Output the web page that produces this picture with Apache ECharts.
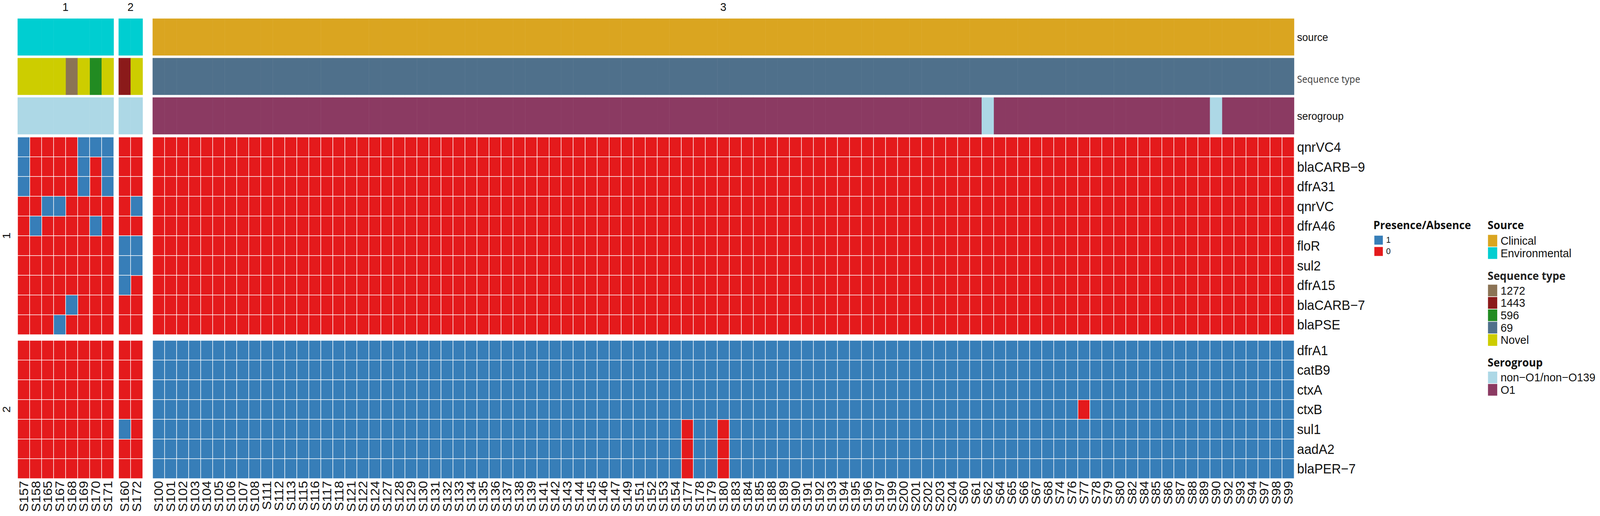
<!DOCTYPE html>
<html>
<head>
<meta charset="utf-8">
<style>html,body{margin:0;padding:0;background:#fff;overflow:hidden}#c{width:4328px;height:1322px;transform-origin:0 0}</style>
<script src="https://cdn.jsdelivr.net/npm/echarts@6/dist/echarts.min.js"></script>
</head>
<body>
<div id="c"></div>
<script>
// ---- categories ----
const samplesA = ['S157','S158','S165','S167','S168','S169','S170','S171'];
const samplesB = ['S160','S172'];
const samplesC = ['S100','S101','S102','S103','S104','S105','S106','S107','S108','S111','S112','S113','S115','S116','S117','S118','S121','S122','S124','S127','S128','S129','S130','S131','S132','S133','S134','S135','S136','S137','S138','S139','S141','S142','S143','S144','S145','S146','S147','S149','S151','S152','S153','S154','S177','S178','S179','S180','S183','S184','S185','S188','S189','S190','S191','S192','S193','S194','S195','S196','S197','S199','S200','S201','S202','S203','S204','S60','S61','S62','S64','S65','S66','S67','S68','S74','S76','S77','S78','S79','S80','S82','S84','S85','S86','S87','S88','S89','S90','S92','S93','S94','S97','S98','S99'];
const genesTop = ['qnrVC4','blaCARB\u22129','dfrA31','qnrVC','dfrA46','floR','sul2','dfrA15','blaCARB\u22127','blaPSE'];
const genesBottom = ['dfrA1','catB9','ctxA','ctxB','sul1','aadA2','blaPER\u22127'];

// ---- annotation values (one code per sample) ----
const sourceNames = {C:'Clinical', E:'Environmental'};
const sequenceNames = {a:'1272', b:'1443', c:'596', d:'69', n:'Novel'};
const seroNames = {x:'non\u2212O1/non\u2212O139', y:'O1'};
const sourceA = 'EEEEEEEE';
const sourceB = 'EE';
const sourceC = 'CCCCCCCCCC CCCCCCCCCC CCCCCCCCCC CCCCCCCCCC CCCCCCCCCC CCCCCCCCCC CCCCCCCCCC CCCCCCCCCC CCCCCCCCCC CCCCC';
const sequenceA = 'nnnnancn';
const sequenceB = 'bn';
const sequenceC = 'dddddddddd dddddddddd dddddddddd dddddddddd dddddddddd dddddddddd dddddddddd dddddddddd dddddddddd ddddd';
const seroA = 'xxxxxxxx';
const seroB = 'xx';
const seroC = 'yyyyyyyyyy yyyyyyyyyy yyyyyyyyyy yyyyyyyyyy yyyyyyyyyy yyyyyyyyyy yyyyyyyyyx yyyyyyyyyy yyyyyyyyxy yyyyy';

// ---- presence / absence, one string per gene ----
const topA = ['10000111','10000101','10000101','00110000','01000010','00000000','00000000','00000000','00001000','00010000'];
const topB = ['00','00','00','01','00','11','11','10','00','00'];
const topC = [
 '0000000000 0000000000 0000000000 0000000000 0000000000 0000000000 0000000000 0000000000 0000000000 00000',
 '0000000000 0000000000 0000000000 0000000000 0000000000 0000000000 0000000000 0000000000 0000000000 00000',
 '0000000000 0000000000 0000000000 0000000000 0000000000 0000000000 0000000000 0000000000 0000000000 00000',
 '0000000000 0000000000 0000000000 0000000000 0000000000 0000000000 0000000000 0000000000 0000000000 00000',
 '0000000000 0000000000 0000000000 0000000000 0000000000 0000000000 0000000000 0000000000 0000000000 00000',
 '0000000000 0000000000 0000000000 0000000000 0000000000 0000000000 0000000000 0000000000 0000000000 00000',
 '0000000000 0000000000 0000000000 0000000000 0000000000 0000000000 0000000000 0000000000 0000000000 00000',
 '0000000000 0000000000 0000000000 0000000000 0000000000 0000000000 0000000000 0000000000 0000000000 00000',
 '0000000000 0000000000 0000000000 0000000000 0000000000 0000000000 0000000000 0000000000 0000000000 00000',
 '0000000000 0000000000 0000000000 0000000000 0000000000 0000000000 0000000000 0000000000 0000000000 00000'
];
const bottomA = ['00000000','00000000','00000000','00000000','00000000','00000000','00000000'];
const bottomB = ['00','00','00','00','10','00','00'];
const bottomC = [
 '1111111111 1111111111 1111111111 1111111111 1111111111 1111111111 1111111111 1111111111 1111111111 11111',
 '1111111111 1111111111 1111111111 1111111111 1111111111 1111111111 1111111111 1111111111 1111111111 11111',
 '1111111111 1111111111 1111111111 1111111111 1111111111 1111111111 1111111111 1111111111 1111111111 11111',
 '1111111111 1111111111 1111111111 1111111111 1111111111 1111111111 1111111111 1111111011 1111111111 11111',
 '1111111111 1111111111 1111111111 1111111111 1111011011 1111111111 1111111111 1111111111 1111111111 11111',
 '1111111111 1111111111 1111111111 1111111111 1111011011 1111111111 1111111111 1111111111 1111111111 11111',
 '1111111111 1111111111 1111111111 1111111111 1111011011 1111111111 1111111111 1111111111 1111111111 11111'
];

// ---- styling ----
const FONT = '"Liberation Sans", Arial, sans-serif';
const HEAD = '"Open Sans", sans-serif';
const colors = {
  '1':'#377EB8','0':'#E41A1C','Clinical':'#DAA520','Environmental':'#00CED1',
  '1272':'#8B7355','1443':'#8B1A1A','596':'#228B22','69':'#4F708B','Novel':'#CDCD00',
  'non\u2212O1/non\u2212O139':'#ADD8E6','O1':'#8B3A62'
};
const columns = [
  {left:47.8, right:307.6, samples:samplesA},
  {left:321, right:386, samples:samplesB},
  {left:413, right:3500.6, samples:samplesC}
];
const bands = [
  {top:47.7, bottom:142, kind:'source', rows:['source'], cols:[sourceA,sourceB,sourceC], names:sourceNames, fs:28, color:'#111', font:FONT},
  {top:148.7, bottom:243, kind:'seq', rows:['Sequence type'], cols:[sequenceA,sequenceB,sequenceC], names:sequenceNames, fs:25, color:'#3a3a3a', font:HEAD, lowered:true},
  {top:249.7, bottom:344, kind:'sero', rows:['serogroup'], cols:[seroA,seroB,seroC], names:seroNames, fs:28, color:'#111', font:FONT},
  {top:351.3, bottom:857.3, kind:'heat', rows:genesTop, cols:[topA,topB,topC], fs:35, color:'#111', font:FONT},
  {top:872.3, bottom:1226, kind:'heat', rows:genesBottom, cols:[bottomA,bottomB,bottomC], fs:35, color:'#111', font:FONT, last:true}
];

const grid = [], xAxis = [], yAxis = [], series = [];
bands.forEach(function (band) {
  columns.forEach(function (col, ci) {
    const idx = grid.length;
    grid.push({left:col.left, top:band.top, width:col.right-col.left, height:band.bottom-band.top, containLabel:false});
    xAxis.push({
      type:'category', gridIndex:idx, data:col.samples, show:!!band.last, position:'bottom',
      axisLine:{show:false}, axisTick:{show:false}, splitLine:{show:false},
      axisLabel:{interval:0, rotate:90, margin:6, fontSize:34, color:'#111', fontFamily:FONT}
    });
    const yLabel = {interval:0, margin:8, fontSize:band.fs, color:band.color, fontFamily:band.font};
    if (band.lowered) { yLabel.verticalAlign = 'top'; yLabel.lineHeight = 12; }
    yAxis.push({
      type:'category', gridIndex:idx, data:band.rows, inverse:true, show:ci===2, position:'right',
      axisLine:{show:false}, axisTick:{show:false}, splitLine:{show:false},
      axisLabel:yLabel
    });
    const buckets = {};
    if (band.kind === 'heat') {
      band.cols[ci].forEach(function (row, r) {
        row.replace(/ /g,'').split('').forEach(function (v, c) {
          (buckets[v] = buckets[v] || []).push([c, r, 1]);
        });
      });
    } else {
      band.cols[ci].replace(/ /g,'').split('').forEach(function (code, c) {
        const n = band.names[code];
        (buckets[n] = buckets[n] || []).push([c, 0, 1]);
      });
    }
    Object.keys(buckets).forEach(function (name) {
      series.push({
        type:'heatmap', name:name, xAxisIndex:idx, yAxisIndex:idx, data:buckets[name], silent:true,
        label:{show:false}, emphasis:{disabled:true},
        itemStyle: band.kind === 'heat'
          ? {color:colors[name], borderColor:'#fff', borderWidth:1.5}
          : {color:colors[name], borderWidth:0}
      });
    });
  });
});

function legend(names, left, top, h, gap, fs) {
  return {
    show:true, orient:'vertical', left:left, top:top, padding:0, data:names.map(function(n){return {name:n, icon:'rect'};}),
    itemWidth:25, itemHeight:h, itemGap:gap, selectedMode:false,
    textStyle:{fontSize:fs, color:'#111', fontFamily:FONT, padding:[0,0,0,fs>24?4:3]},
    inactiveColor:'#ccc'
  };
}
function text(t, x, y, o) {
  return {type:'text', x:x, y:y, silent:true, rotation:(o&&o.rot)||0,
    style:{text:t, fill:(o&&o.fill)||'#111', font:(o&&o.font)||('30px '+FONT), textAlign:(o&&o.align)||'center', textVerticalAlign:'middle'}};
}
const boldFont = 'bold 29px '+HEAD;
const graphic = [
  text('1', 177, 17.5), text('2', 353, 17.5), text('3', 1956.5, 17.5),
  text('1', 17.5, 604, {rot:Math.PI/2}), text('2', 17.5, 1049, {rot:Math.PI/2}),
  text('Presence/Absence', 3715, 575.5, {font:boldFont, align:'left'}),
  text('Source', 4024, 575.5, {font:boldFont, align:'left'}),
  text('Sequence type', 4024, 705.5, {font:boldFont, align:'left', fill:'#222'}),
  text('Serogroup', 4024, 928, {font:boldFont, align:'left'})
];

const option = {
  animation:false, backgroundColor:'#fff', tooltip:{show:false},
  grid:grid, xAxis:xAxis, yAxis:yAxis, series:series,
  legend:[
    legend(['1','0'], 3715.6, 601.7, 25, 2, 22),
    legend(['Clinical','Environmental'], 4025, 601.7, 30, 1.7, 30),
    legend(['1272','1443','596','69','Novel'], 4025, 729.3, 30, 1.7, 30),
    legend(['non\u2212O1/non\u2212O139','O1'], 4025, 952, 30, 1.7, 30)
  ],
  graphic:graphic
};
// The browser window may be narrower than the chart: fit the whole chart to its width.
const box = document.getElementById('c');
box.style.transform = 'scaleX(' + Math.min(1, window.innerWidth / 4328) + ')';
const chart = echarts.init(box, null, {renderer:'svg', width:4328, height:1322});
chart.setOption(option);
</script>
</body>
</html>
